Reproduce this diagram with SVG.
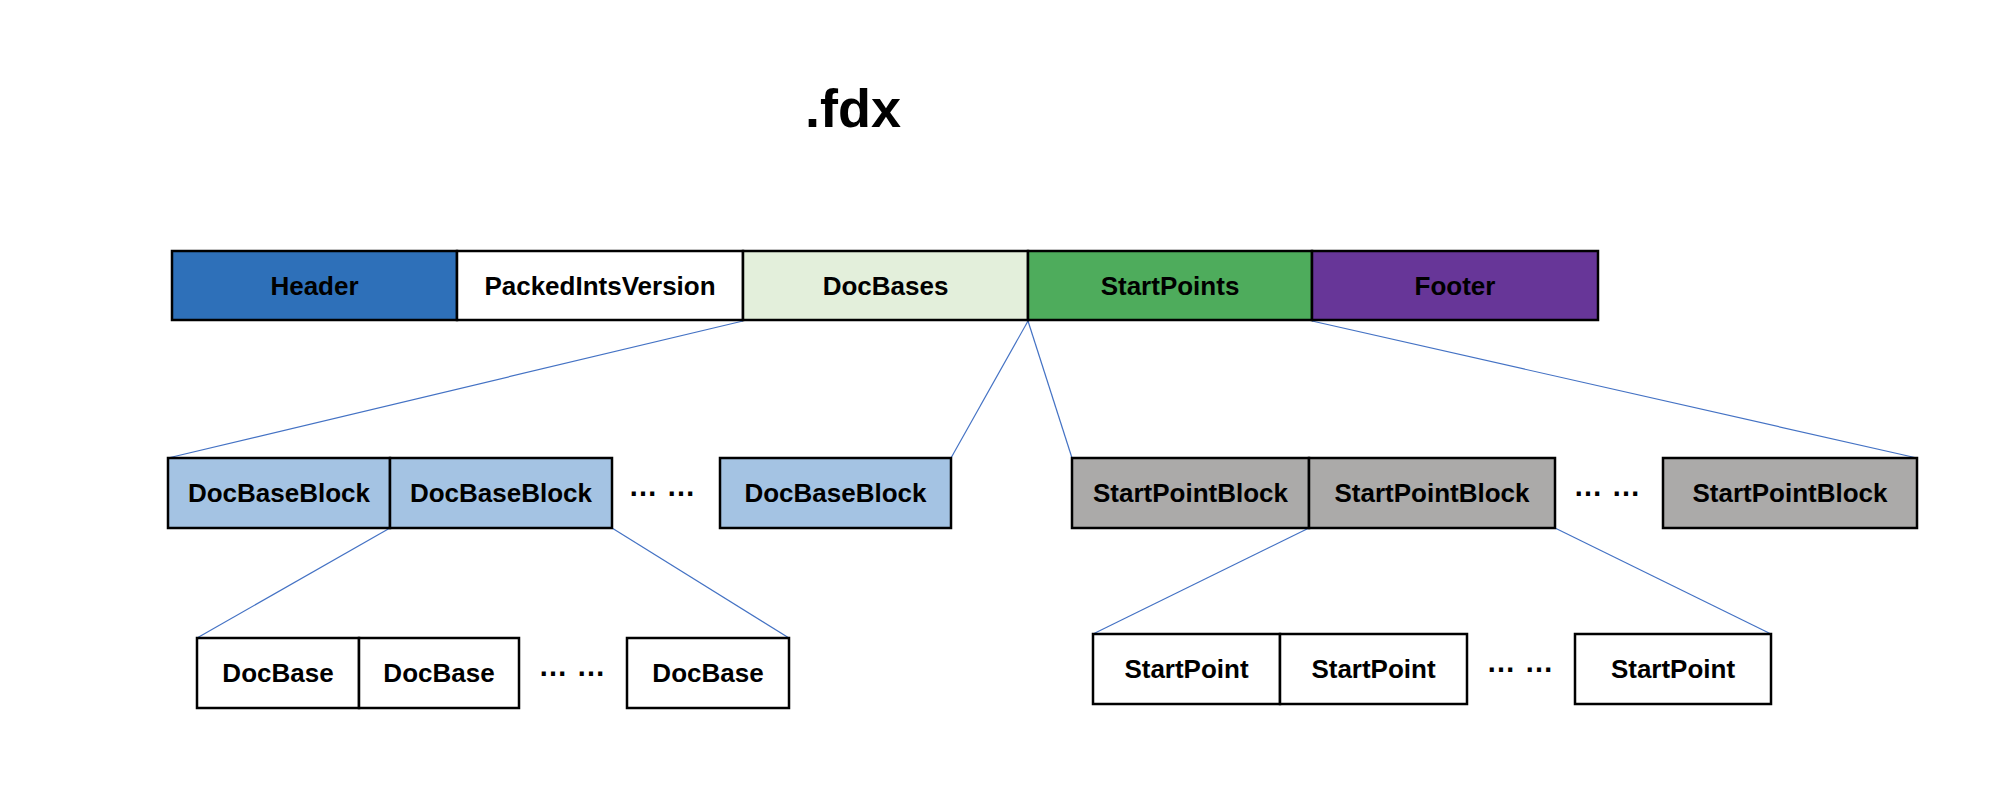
<svg xmlns="http://www.w3.org/2000/svg" width="1992" height="804" viewBox="0 0 1992 804">
<style>
.box{stroke:#000;stroke-width:2.5}
.lbl{font-family:"Liberation Sans",Arial,sans-serif;font-weight:bold;font-size:26px;text-anchor:middle;fill:#000}
.dots{font-family:"Liberation Sans",Arial,sans-serif;font-weight:bold;font-size:29px;letter-spacing:9px;text-anchor:middle;fill:#000}
.con{stroke:#4472C4;stroke-width:1.2;fill:none}
</style>
<rect width="1992" height="804" fill="#fff"/>
<text x="853" y="127" font-family="Liberation Sans,Arial,sans-serif" font-weight="bold" font-size="54" text-anchor="middle">.fdx</text>
<g id="connectors">
<line class="con" x1="743" y1="321" x2="168" y2="458"/>
<line class="con" x1="1028" y1="321" x2="951" y2="458"/>
<line class="con" x1="1028" y1="321" x2="1072" y2="458"/>
<line class="con" x1="1312" y1="321" x2="1917" y2="458"/>
<line class="con" x1="390" y1="528" x2="197" y2="638"/>
<line class="con" x1="612" y1="528" x2="789" y2="638"/>
<line class="con" x1="1309" y1="528" x2="1093" y2="634"/>
<line class="con" x1="1555" y1="528" x2="1771" y2="634"/>
</g>
<g id="header"><rect class="box" x="172" y="251" width="285" height="69" fill="#2E70B9"/><text class="lbl" x="314.5" y="295">Header</text></g>
<g id="packedIntsVersion"><rect class="box" x="457" y="251" width="286" height="69" fill="#fff"/><text class="lbl" x="600" y="295">PackedIntsVersion</text></g>
<g id="docBases"><rect class="box" x="743" y="251" width="285" height="69" fill="#E3EFDB"/><text class="lbl" x="885.5" y="295">DocBases</text></g>
<g id="startPoints"><rect class="box" x="1028" y="251" width="284" height="69" fill="#4EAC5C"/><text class="lbl" x="1170" y="295">StartPoints</text></g>
<g id="footer"><rect class="box" x="1312" y="251" width="286" height="69" fill="#673698"/><text class="lbl" x="1455" y="295">Footer</text></g>

<g id="docBaseBlock1"><rect class="box" x="168" y="458" width="222" height="70" fill="#A4C3E3"/><text class="lbl" x="279" y="502">DocBaseBlock</text></g>
<g id="docBaseBlock2"><rect class="box" x="390" y="458" width="222" height="70" fill="#A4C3E3"/><text class="lbl" x="501" y="502">DocBaseBlock</text></g>
<g id="docBaseBlockDots"><text class="dots" x="666.5" y="496">……</text></g>
<g id="docBaseBlock3"><rect class="box" x="720" y="458" width="231" height="70" fill="#A4C3E3"/><text class="lbl" x="835.5" y="502">DocBaseBlock</text></g>

<g id="startPointBlock1"><rect class="box" x="1072" y="458" width="237" height="70" fill="#ABAAA9"/><text class="lbl" x="1190.5" y="502">StartPointBlock</text></g>
<g id="startPointBlock2"><rect class="box" x="1309" y="458" width="246" height="70" fill="#ABAAA9"/><text class="lbl" x="1432" y="502">StartPointBlock</text></g>
<g id="startPointBlockDots"><text class="dots" x="1611.5" y="496">……</text></g>
<g id="startPointBlock3"><rect class="box" x="1663" y="458" width="254" height="70" fill="#ABAAA9"/><text class="lbl" x="1790" y="502">StartPointBlock</text></g>

<g id="docBase1"><rect class="box" x="197" y="638" width="162" height="70" fill="#fff"/><text class="lbl" x="278" y="682">DocBase</text></g>
<g id="docBase2"><rect class="box" x="359" y="638" width="160" height="70" fill="#fff"/><text class="lbl" x="439" y="682">DocBase</text></g>
<g id="docBaseDots"><text class="dots" x="576.5" y="676">……</text></g>
<g id="docBase3"><rect class="box" x="627" y="638" width="162" height="70" fill="#fff"/><text class="lbl" x="708" y="682">DocBase</text></g>

<g id="startPoint1"><rect class="box" x="1093" y="634" width="187" height="70" fill="#fff"/><text class="lbl" x="1186.5" y="678">StartPoint</text></g>
<g id="startPoint2"><rect class="box" x="1280" y="634" width="187" height="70" fill="#fff"/><text class="lbl" x="1373.5" y="678">StartPoint</text></g>
<g id="startPointDots"><text class="dots" x="1524.5" y="672">……</text></g>
<g id="startPoint3"><rect class="box" x="1575" y="634" width="196" height="70" fill="#fff"/><text class="lbl" x="1673" y="678">StartPoint</text></g>
</svg>
